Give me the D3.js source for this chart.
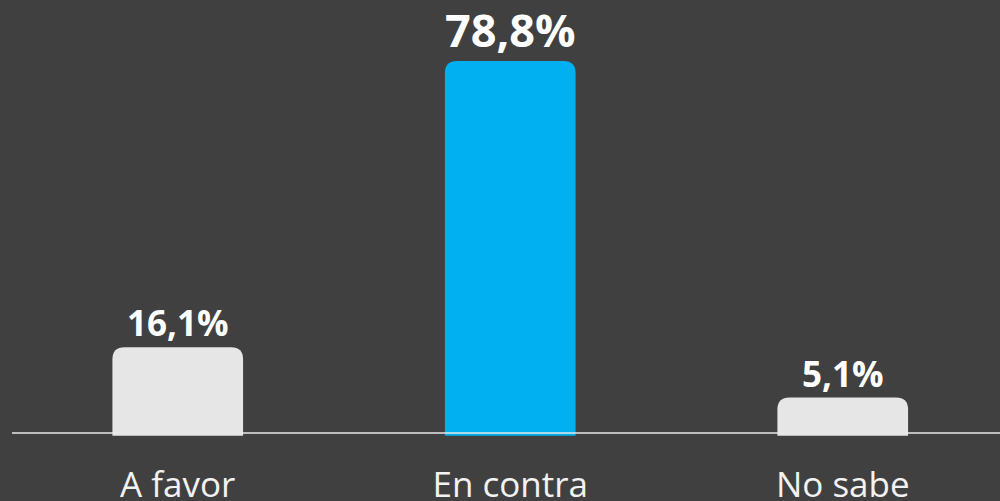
<!DOCTYPE html>
<html>
<head>
<meta charset="utf-8">
<script src="https://cdn.jsdelivr.net/npm/d3@7"></script>
<style>
  html, body { margin: 0; padding: 0; background: #404040; }
  svg { display: block; }
</style>
</head>
<body>
<div id="chart"></div>
<script>
(function() {
  var width = 1000,
      height = 501;

  // data
  var categories = ["A favor", "En contra", "No sabe"];
  var values = [16.1, 78.8, 5.1];
  var valueLabels = ["16,1%", "78,8%", "5,1%"];
  var barColours = ["#e6e6e6", "#00b0f0", "#e6e6e6"];
  var labelSizes = [35, 45, 35];

  var svg = d3.select("#chart")
    .append("svg")
    .attr("width", width)
    .attr("height", height);

  svg.append("rect")
    .attr("width", width)
    .attr("height", height)
    .attr("fill", "#404040");

  var xPositionScale = d3.scaleBand()
    .domain(categories)
    .range([11.5, 1009])
    .paddingInner(0.607)
    .paddingOuter(0.3035);

  var yPositionScale = d3.scaleLinear()
    .domain([0, 78.8])
    .range([420.8, 61]);

  var barBottom = 435.7;
  var r = 12;

  var data = categories.map(function(c, i) {
    return { cat: c, value: values[i], label: valueLabels[i], colour: barColours[i], size: labelSizes[i] };
  });

  // bars with rounded top corners only
  svg.selectAll(".bar")
    .data(data)
    .enter().append("path")
    .attr("class", "bar")
    .attr("fill", function(d) { return d.colour })
    .attr("d", function(d) {
      var x0 = xPositionScale(d.cat),
          x1 = x0 + xPositionScale.bandwidth(),
          y0 = yPositionScale(d.value);
      return "M" + x0 + "," + barBottom +
        "L" + x0 + "," + (y0 + r) +
        "Q" + x0 + "," + y0 + " " + (x0 + r) + "," + y0 +
        "L" + (x1 - r) + "," + y0 +
        "Q" + x1 + "," + y0 + " " + x1 + "," + (y0 + r) +
        "L" + x1 + "," + barBottom + "Z";
    });

  // baseline
  svg.append("line")
    .attr("x1", 12)
    .attr("x2", width)
    .attr("y1", 433)
    .attr("y2", 433)
    .attr("stroke", "#e8e8e8")
    .attr("stroke-width", 1.6);

  // value labels
  svg.selectAll(".value-label")
    .data(data)
    .enter().append("text")
    .attr("class", "value-label")
    .attr("x", function(d) { return xPositionScale(d.cat) + xPositionScale.bandwidth() / 2 })
    .attr("y", function(d) { return yPositionScale(d.value) - (d.size > 40 ? 14 : 11) })
    .attr("text-anchor", "middle")
    .attr("font-family", "'Open Sans', sans-serif")
    .attr("font-weight", "bold")
    .attr("font-size", function(d) { return d.size + "px" })
    .attr("fill", "#ffffff")
    .text(function(d) { return d.label });

  // category labels
  var xAxis = d3.axisBottom(xPositionScale).tickSize(0).tickPadding(0);

  var axisG = svg.append("g")
    .attr("class", "axis x-axis")
    .attr("transform", "translate(0,497)")
    .call(xAxis);

  axisG.select(".domain").remove();
  axisG.selectAll("text")
    .attr("dy", 0)
    .attr("y", 0)
    .attr("font-family", "'Open Sans', sans-serif")
    .attr("font-size", "35px")
    .attr("fill", "#f2f2f2");
})();
</script>
</body>
</html>
